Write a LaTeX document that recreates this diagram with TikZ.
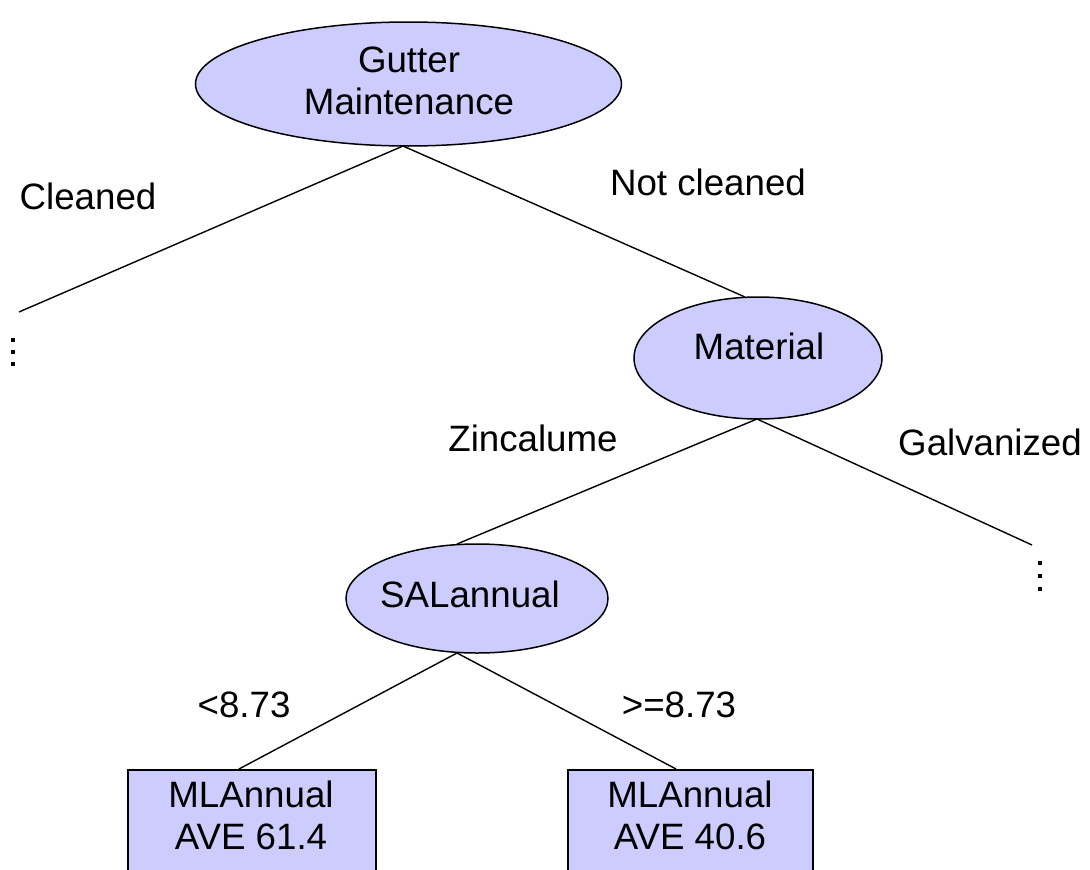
\documentclass[tikz,border=0pt]{standalone}
\usepackage{fontspec}
\setmainfont{Liberation Sans}
\usetikzlibrary{shapes.geometric}
\definecolor{nodefill}{RGB}{204,204,255}
\tikzset{
  txt/.style={font=\fontsize{36.7}{42}\selectfont, inner sep=0pt, align=center},
  lbl/.style={txt, text height=26.3pt, text depth=0pt},
  ell/.style={ellipse, draw=black, line width=1.5pt, fill=nodefill, inner sep=0pt},
  leaf/.style={rectangle, draw=black, line width=1.5pt, fill=nodefill, inner sep=0pt},
  edge/.style={draw=black, line width=1.4pt},
  dotsq/.style={fill=black}
}
\begin{document}
\begin{tikzpicture}[x=1pt,y=-1pt]
\useasboundingbox (0,0) rectangle (1090,870);
\clip (0,0) rectangle (1090,870);
% ellipses
\node[ell, minimum width=426pt, minimum height=124pt] (root) at (408.5,84) {};
\node[ell, minimum width=248pt, minimum height=122pt] (mat) at (758,358) {};
\node[ell, minimum width=262pt, minimum height=109pt] (sal) at (477,598.5) {};
% leaves (cut off by the lower edge)
\node[leaf, minimum width=248pt, minimum height=140pt, anchor=north west] (leafL) at (127,769) {};
\node[leaf, minimum width=245pt, minimum height=140pt, anchor=north west] (leafR) at (567,769) {};
% connector end points
\coordinate (rootB) at (403,146);
\coordinate (leftEnd) at (19,312);
\coordinate (matT) at (745,297);
\coordinate (matB) at (757,419);
\coordinate (salT) at (457,544);
\coordinate (rightEnd) at (1032,545);
\coordinate (salB) at (457,653);
\coordinate (leafLT) at (239,769);
\coordinate (leafRT) at (676,769);
% connectors
\draw[edge] (rootB) -- (leftEnd);
\draw[edge] (rootB) -- (matT);
\draw[edge] (matB) -- (salT);
\draw[edge] (matB) -- (rightEnd);
\draw[edge] (salB) -- (leafLT);
\draw[edge] (salB) -- (leafRT);
% texts in shapes
\node[txt] (rootText) at (409,81) {Gutter\\Maintenance};
\node[lbl] (matText) at (759,346) {Material};
\node[lbl] (salText) at (470,594) {SALannual};
\node[txt, anchor=base] (leafLText) at (251,849) {MLAnnual\\AVE 61.4};
\node[txt, anchor=base] (leafRText) at (690,849) {MLAnnual\\AVE 40.6};
% edge labels
\node[lbl] (cleaned) at (88,196) {Cleaned};
\node[lbl] (notcleaned) at (708,182) {Not cleaned};
\node[lbl] (zinc) at (533,438) {Zincalume};
\node[lbl] (galv) at (990,442) {Galvanized};
\node[lbl] (lt) at (244,704) {<8.73};
\node[lbl] (ge) at (679,704) {>=8.73};
% continuation dots
\foreach \yy in {340,352,364} \fill[dotsq] (11,\yy-2) rectangle (15,\yy+2);
\foreach \yy in {563,576,589} \fill[dotsq] (1038,\yy-2) rectangle (1042,\yy+2);
\end{tikzpicture}
\end{document}
